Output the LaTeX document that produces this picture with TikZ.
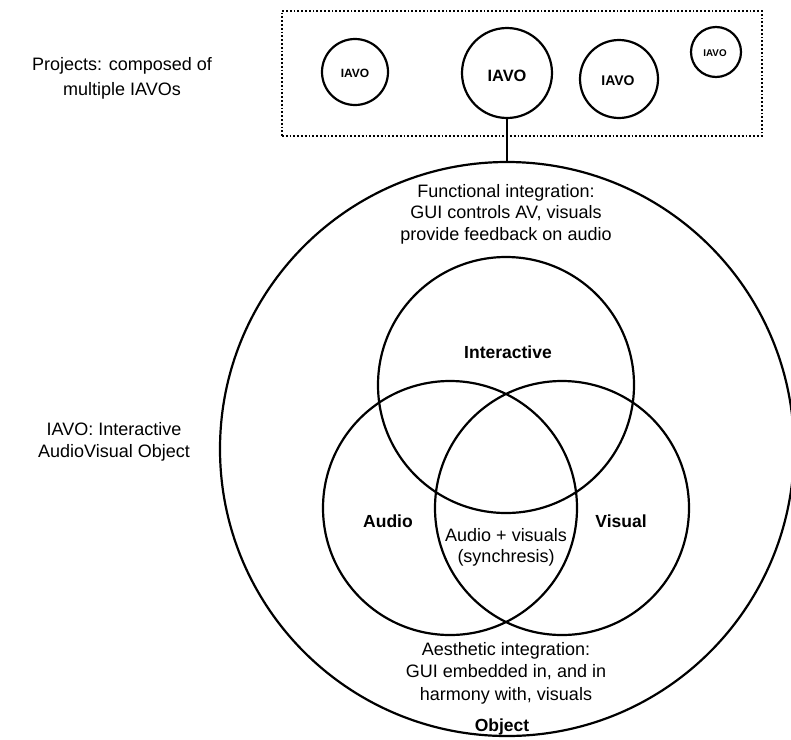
\documentclass[tikz,border=0pt]{standalone}
\usepackage{fontspec}
\setmainfont{Liberation Sans}
\begin{document}
\begin{tikzpicture}[x=1pt,y=-1pt,
  ring/.style={circle,draw,line width=2.2pt,inner sep=0pt},
  lbl/.style={align=center,inner sep=0pt,font=\fontsize{18}{22}\selectfont},
  blbl/.style={inner sep=0pt,anchor=base,font=\fontsize{17.5}{20}\selectfont\bfseries}]
\useasboundingbox (0,0) rectangle (791,739);
% project box
\node[draw,dotted,line width=1.8pt,minimum width=480pt,minimum height=125pt,anchor=north west] (proj) at (281,10) {};
\node[ring,minimum size=66pt] (i1) at (355,72) {};
\node[ring,minimum size=90pt] (i2) at (507,73) {};
\node[ring,minimum size=78pt] (i3) at (619,79) {};
\node[ring,minimum size=50pt] (i4) at (716,52) {};
\node[font=\fontsize{12}{14}\selectfont\bfseries,inner sep=0pt] (t1) at (355,73.5) {IAVO};
\node[font=\fontsize{16.4}{18}\selectfont\bfseries,inner sep=0pt] (t2) at (507,75.5) {IAVO};
\node[font=\fontsize{14}{16}\selectfont\bfseries,inner sep=0pt] (t3) at (618,81) {IAVO};
\node[font=\fontsize{9.8}{11}\selectfont\bfseries,inner sep=0pt] (t4) at (715,53) {IAVO};
% object
\node[ring,minimum size=574pt] (obj) at (507,449) {};
\draw[line width=2.2pt] (i2.south) -- (obj.north);
% venn
\node[ring,minimum size=256pt] (inter) at (506,385) {};
\node[ring,minimum size=254pt] (audio) at (450,508) {};
\node[ring,minimum size=254pt] (visual) at (562,508) {};
% labels
\node[lbl,font=\fontsize{18}{25}\selectfont] (ptxt) at (122,78) {Projects: composed of\\multiple IAVOs};
\node[lbl] (otxt) at (114,442) {IAVO: Interactive\\AudioVisual Object};
\node[lbl,font=\fontsize{18}{21.5}\selectfont] (ftxt) at (506,214) {Functional integration:\\GUI controls AV, visuals\\provide feedback on audio};
\node[lbl,font=\fontsize{18}{22.5}\selectfont] (atxt) at (506,673) {Aesthetic integration:\\GUI embedded in, and in\\harmony with, visuals};
\node[blbl] (objl) at (502,731) {Object};
\node[blbl] (intl) at (508,358) {Interactive};
\node[blbl] (audl) at (388,527) {Audio};
\node[blbl] (visl) at (621,527) {Visual};
\node[lbl,font=\fontsize{18}{21}\selectfont] (sync) at (506,547.5) {Audio + visuals\\(synchresis)};
\end{tikzpicture}
\end{document}
